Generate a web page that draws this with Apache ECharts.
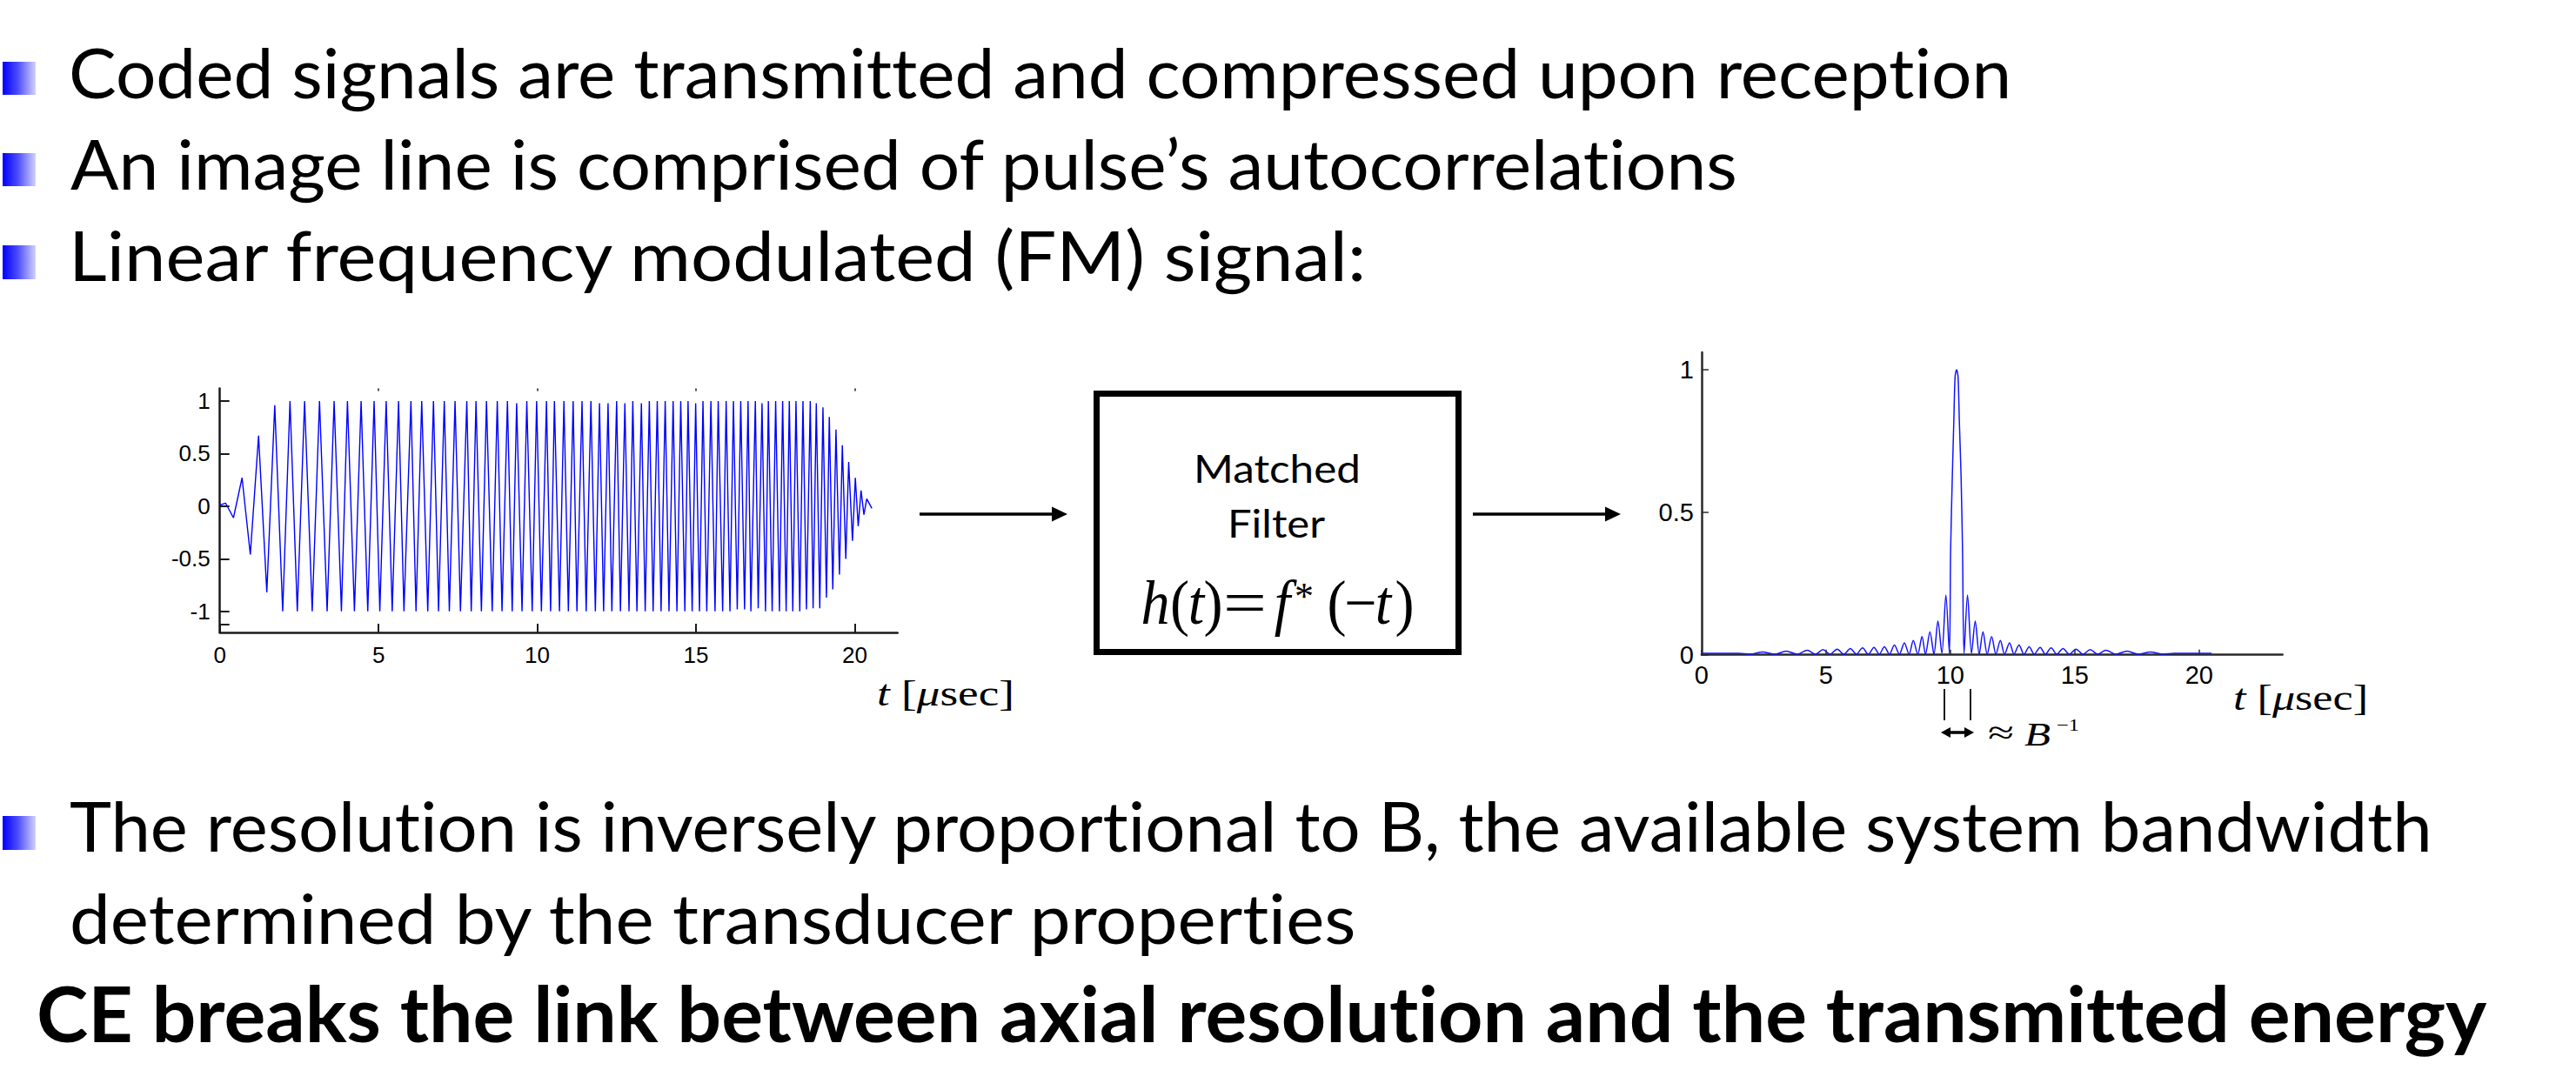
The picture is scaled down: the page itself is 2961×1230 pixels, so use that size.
<!DOCTYPE html>
<html><head><meta charset="utf-8">
<script src="https://cdn.jsdelivr.net/npm/echarts@6/dist/echarts.min.js"></script>
<style>html,body{margin:0;padding:0;background:#fff;overflow:hidden}#c{width:2961px;height:1230px}
#c text,#c tspan{font-variant-ligatures:none !important;font-feature-settings:"liga" 0,"clig" 0 !important}</style>
</head><body><div id="c"></div>
<script>
// ---------- data ----------
// transmitted linear-FM pulse: times (usec) of successive extrema and their values
const pulseT = [0.00,0.18,0.43,0.70,0.96,1.22,1.48,1.73,1.98,2.21,2.44,2.67,2.91,3.14,3.38,3.60,3.83,4.02,4.24,4.45,4.66,4.86,5.04,5.24,5.43,5.63,5.80,6.02,6.18,6.36,6.55,6.73,6.89,7.07,7.23,7.41,7.58,7.78,7.92,8.07,8.24,8.40,8.58,8.74,8.89,9.06,9.21,9.35,9.52,9.67,9.84,9.98,10.13,10.29,10.42,10.54,10.70,10.84,10.98,11.13,11.25,11.41,11.54,11.69,11.83,11.96,12.09,12.23,12.35,12.50,12.62,12.76,12.89,13.01,13.14,13.28,13.40,13.53,13.65,13.78,13.90,14.03,14.15,14.28,14.40,14.52,14.65,14.75,14.88,14.99,15.11,15.22,15.34,15.47,15.60,15.70,15.84,15.95,16.07,16.18,16.30,16.41,16.53,16.64,16.73,16.87,16.96,17.08,17.19,17.28,17.40,17.51,17.63,17.73,17.84,17.94,18.05,18.15,18.27,18.37,18.48,18.60,18.69,18.79,18.90,19.00,19.11,19.20,19.31,19.41,19.52,19.61,19.72,19.81,19.93,20.02,20.11,20.20,20.29,20.38,20.54];
const pulseV = [0.01,0.03,-0.11,0.27,-0.46,0.67,-0.82,0.96,-1,1,-1,1,-1,1,-1,1,-1,1,-1,1,-1,1,-1,1,-1,1,-1,1,-1,1,-1,1,-1,1,-1,1,-1,1,-1,1,-1,1,-1,1,-1,1,-1,0.98,-1,1,-1,1,-1,1,-1,1,-1,1,-1,1,-1,1,-1,1,-1,0.98,-1,0.98,-1,1,-1,0.98,-1,1,-1,0.98,-1,1,-1,1,-1,1,-1,1,-1,1,-1,1,-1,0.98,-1,1,-1,1,-1,1,-1,1,-1,1,-0.98,1,-0.98,1,-1,1,-0.97,0.98,-1,1,-1,1,-1,1,-1,1,-1,1,-1,1,-0.98,1,-0.97,0.98,-0.97,0.94,-0.87,0.85,-0.79,0.73,-0.65,0.58,-0.50,0.42,-0.33,0.27,-0.19,0.15,-0.08,0.07,-0.02,0.01,-0.01];
// compressed output (autocorrelation magnitude): lobe peaks and nulls
const corrT = [0.00,1.50,1.95,2.45,2.95,3.40,3.85,4.25,4.58,4.88,5.17,5.45,5.72,5.98,6.22,6.47,6.70,6.93,7.14,7.35,7.55,7.75,7.95,8.15,8.34,8.51,8.69,8.86,9.00,9.18,9.34,9.50,9.66,9.82,9.96,10.01,10.08,10.14,10.19,10.25,10.31,10.36,10.43,10.49,10.55,10.69,10.85,11.00,11.16,11.31,11.48,11.66,11.83,12.01,12.18,12.38,12.56,12.76,12.96,13.17,13.37,13.61,13.82,14.05,14.28,14.53,14.78,15.05,15.33,15.62,15.92,16.25,16.65,17.10,17.55,18.05,18.55,19.00,20.50];
const corrV = [0.005,0.005,0.002,0.010,0.002,0.013,0.002,0.016,0.002,0.018,0.002,0.020,0.002,0.022,0.002,0.024,0.002,0.026,0.002,0.028,0.002,0.034,0.002,0.042,0.002,0.050,0.002,0.064,0.002,0.081,0.002,0.118,0.005,0.21,0.005,0.364,0.629,0.822,0.975,1.0,0.975,0.822,0.629,0.364,0.005,0.21,0.005,0.118,0.002,0.081,0.002,0.064,0.002,0.050,0.002,0.042,0.002,0.034,0.002,0.028,0.002,0.026,0.002,0.024,0.002,0.022,0.002,0.020,0.002,0.018,0.002,0.016,0.002,0.013,0.002,0.010,0.002,0.005,0.005];
const pulseXTicks = [0,5,10,15,20];
const pulseYTicks = [-1,-0.5,0,0.5,1];
const corrXTicks = [0,5,10,15,20];
const corrYTicks = [0,0.5,1];
const bulletTexts = [
  'Coded signals are transmitted and compressed upon reception',
  'An image line is comprised of pulse\u2019s autocorrelations',
  'Linear frequency modulated (FM) signal:',
  'The resolution is inversely proportional to B, the available system bandwidth',
  'determined by the transducer properties'
];
const boldText = 'CE breaks the link between axial resolution and the transmitted energy';
const boxTexts = ['Matched', 'Filter'];

// ---------- helpers ----------
const meas = document.createElement('canvas').getContext('2d');
function tw(fam, size, weight, style, s) {
  meas.font = (style || 'normal') + ' ' + (weight || 'normal') + ' ' + size + 'px "' + fam + '"';
  return meas.measureText(s).width;
}
const MID = {'Lato': 0.387, 'Liberation Serif': 0.3375, 'Liberation Sans': 0.3465};
function txt(s, x, baseline, fam, size, target, opt) {
  opt = opt || {};
  const w = tw(fam, size, opt.weight, opt.style, s);
  return {
    type: 'text', x: x, y: baseline - MID[fam] * size, z: 100, silent: true,
    scaleX: target ? target / w : (opt.sx || 1),
    style: { text: s, fontFamily: fam, fontSize: size, fontWeight: opt.weight || 'normal',
      fontStyle: opt.style || 'normal', fill: '#000', textAlign: opt.align || 'left', verticalAlign: 'middle' }
  };
}
function rich(tokens, x, baseline, fam, size, target) {
  let w = 0; const richStyles = {}; let str = '';
  tokens.forEach(function (t, i) {
    const name = 'k' + i;
    const fs = t[3] || size;
    w += tw(fam, fs, 'normal', t[2], t[1]);
    richStyles[name] = { fontFamily: fam, fontSize: fs, fontStyle: t[2] || 'normal', fill: '#000' };
    str += '{' + name + '|' + t[1] + '}';
  });
  return {
    type: 'text', x: x, y: baseline - MID[fam] * size, z: 100, silent: true,
    scaleX: target ? target / w : 1,
    style: { text: str, rich: richStyles, textAlign: 'left', verticalAlign: 'middle', fontSize: size, fontFamily: fam }
  };
}
function bullet(y0, y1) {
  return { type: 'rect', z: 100, silent: true, shape: { x: 3, y: y0, width: 38, height: y1 - y0 },
    style: { fill: new echarts.graphic.LinearGradient(0, 0, 1, 0, [
      { offset: 0, color: '#0000ff' }, { offset: 0.45, color: '#4a4aff' }, { offset: 1, color: '#d2d2ff' }]) } };
}
function arrowH(x1, x2, y, lw, head, half) {
  return [
    { type: 'line', z: 100, silent: true, shape: { x1: x1, y1: y, x2: x2 - head + 2, y2: y }, style: { stroke: '#000', lineWidth: lw } },
    { type: 'polygon', z: 100, silent: true, shape: { points: [[x2, y], [x2 - head, y - half], [x2 - head, y + half]] }, style: { fill: '#000' } }
  ];
}

// ---------- graphics (slide text, box, arrows, annotations) ----------
const g = [];
g.push(bullet(71, 109), bullet(176, 214), bullet(282, 321), bullet(938, 977));
g.push(txt(bulletTexts[0], 79, 113, 'Lato', 80, 2232));
g.push(txt(bulletTexts[1], 81, 218, 'Lato', 80, 1919));
g.push(txt(bulletTexts[2], 79, 323, 'Lato', 80, 1495));
g.push(txt(bulletTexts[3], 80, 979, 'Lato', 80, 2722));
g.push(txt(bulletTexts[4], 80, 1085, 'Lato', 80, 1484));
g.push(txt(boldText, 42, 1198, 'Lato', 88, 2815, { weight: 'bold' }));
// matched filter box
g.push({ type: 'rect', z: 100, silent: true, shape: { x: 1260.5, y: 452.5, width: 416, height: 297 },
  style: { fill: 'none', stroke: '#000', lineWidth: 7 } });
g.push(txt(boxTexts[0], 1468, 555, 'Lato', 44, 192, { align: 'center' }));
g.push(txt(boxTexts[1], 1467, 618, 'Lato', 44, 112, { align: 'center' }));
// h(t) = f*(-t): each glyph centred where it sits in the picture
const FS = 72, SER = 'Liberation Serif';
[['h', 1328, 'italic'], ['(', 1356], ['t', 1375, 'italic'], [')', 1394.5], ['=', 1431], ['f', 1474, 'italic'],
 ['(', 1536.5], ['\u2212', 1564], ['t', 1590, 'italic'], [')', 1614.5]].forEach(function (p) {
  g.push(txt(p[0], p[1], 717, SER, FS, p[0] === '=' ? 50 : 0, { style: p[2] || 'normal', align: 'center', sx: 0.92 }));
});
g.push(txt('*', 1499, 700, SER, 44, 0, { align: 'center' }));
arrowH(1057, 1227, 591, 3.5, 18, 8.5).forEach(function (e) { g.push(e); });
arrowH(1693, 1863, 591, 3.5, 18, 8.5).forEach(function (e) { g.push(e); });
// axis titles
g.push(rich([['i', 't', 'italic'], ['r', ' ['], ['i', '\u03bc', 'italic'], ['r', 'sec]']], 1008, 811, SER, 43, 158));
g.push(rich([['i', 't', 'italic'], ['r', ' ['], ['i', '\u03bc', 'italic'], ['r', 'sec]']], 2567, 816, SER, 43, 155));
// resolution annotation
g.push({ type: 'line', z: 100, silent: true, shape: { x1: 2235, y1: 792, x2: 2235, y2: 828 }, style: { stroke: '#000', lineWidth: 1.8 } });
g.push({ type: 'line', z: 100, silent: true, shape: { x1: 2265, y1: 792, x2: 2265, y2: 828 }, style: { stroke: '#000', lineWidth: 1.8 } });
g.push({ type: 'line', z: 100, silent: true, shape: { x1: 2240, y1: 842, x2: 2260, y2: 842 }, style: { stroke: '#000', lineWidth: 3.5 } });
g.push({ type: 'polygon', z: 100, silent: true, shape: { points: [[2231, 842], [2242, 836], [2242, 848]] }, style: { fill: '#000' } });
g.push({ type: 'polygon', z: 100, silent: true, shape: { points: [[2269, 842], [2258, 836], [2258, 848]] }, style: { fill: '#000' } });
g.push(txt('\u2248', 2285, 855, SER, 38, 30));
g.push(txt('B', 2327, 857, SER, 38, 30, { style: 'italic' }));
g.push(txt('\u22121', 2364, 840, SER, 19, 26));

// ---------- chart ----------
const chart = echarts.init(document.getElementById('c'), null, { renderer: 'svg' });
const axisLbl = function (size, margin) {
  return { color: '#000', fontFamily: 'Liberation Sans', fontSize: size, margin: margin };
};
chart.setOption({
  animation: false,
  backgroundColor: '#fff',
  grid: [
    { left: 252.7, top: 446.5, width: 779, height: 280.5 },
    { left: 1955.9, top: 405, width: 667.7, height: 347.7 }
  ],
  xAxis: [
    { type: 'value', gridIndex: 0, min: 0, max: 21.35, position: 'bottom',
      axisLine: { onZero: false, lineStyle: { color: '#1a1a1a', width: 2.5 } },
      axisTick: { inside: true, length: 10, customValues: pulseXTicks, lineStyle: { color: '#1a1a1a', width: 2 } },
      axisLabel: Object.assign(axisLbl(26, 13), { customValues: pulseXTicks }), splitLine: { show: false } },
    { type: 'value', gridIndex: 0, min: 0, max: 21.35, position: 'top',
      axisLine: { show: false, onZero: false },
      axisTick: { inside: true, length: 3, customValues: [5, 10, 15, 20], lineStyle: { color: '#555', width: 2 } },
      axisLabel: { show: false }, splitLine: { show: false } },
    { type: 'value', gridIndex: 1, min: 0, max: 23.35, position: 'bottom',
      axisLine: { onZero: false, lineStyle: { color: '#2a2a2a', width: 2.5 } },
      axisTick: { inside: true, length: 6, customValues: corrXTicks, lineStyle: { color: '#2a2a2a', width: 1.5 } },
      axisLabel: Object.assign(axisLbl(29, 9), { customValues: corrXTicks }), splitLine: { show: false } }
  ],
  yAxis: [
    { type: 'value', gridIndex: 0, min: -1.2, max: 1.12, position: 'left',
      axisLine: { show: true, onZero: false, lineStyle: { color: '#1a1a1a', width: 2.5 } },
      axisTick: { show: true, inside: true, length: 11, customValues: pulseYTicks.concat([-1.12]), lineStyle: { color: '#1a1a1a', width: 2 } },
      axisLabel: Object.assign(axisLbl(26, 11), { customValues: pulseYTicks }), splitLine: { show: false } },
    { type: 'value', gridIndex: 1, min: 0, max: 1.061, position: 'left',
      axisLine: { show: true, onZero: false, lineStyle: { color: '#2a2a2a', width: 2.5 } },
      axisTick: { show: true, inside: true, length: 8, customValues: corrYTicks, lineStyle: { color: '#2a2a2a', width: 1.5 } },
      axisLabel: Object.assign(axisLbl(29, 9), { customValues: corrYTicks }), splitLine: { show: false } }
  ],
  series: [
    { type: 'line', xAxisIndex: 0, yAxisIndex: 0, showSymbol: false, symbol: 'none',
      data: pulseT.map(function (t, i) { return [t, pulseV[i]]; }),
      lineStyle: { color: '#0000ff', width: 1.4 }, clip: false },
    { type: 'line', xAxisIndex: 2, yAxisIndex: 1, showSymbol: false, symbol: 'none', smooth: 0.3,
      data: corrT.map(function (t, i) { return [t, corrV[i]]; }),
      lineStyle: { color: '#1414ff', width: 1.5 } }
  ],
  graphic: { elements: g }
});
</script>
</body></html>
